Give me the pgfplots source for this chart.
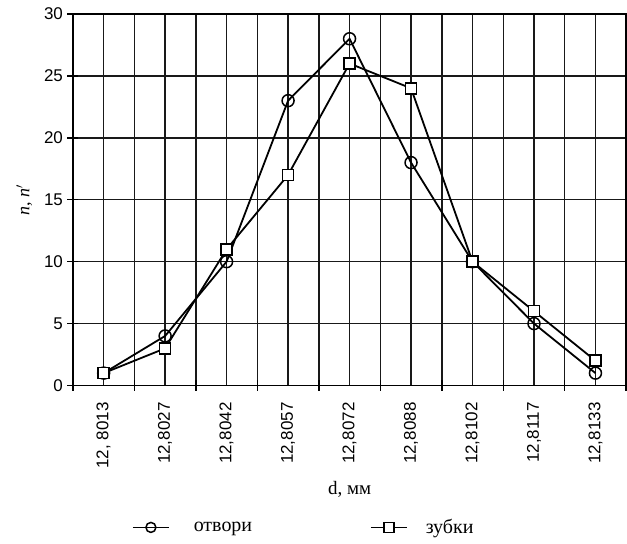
\documentclass[border=0pt]{standalone}
\usepackage{pgfplots}
\pgfplotsset{compat=1.18}
\usepackage{fontspec}
\setmainfont{Liberation Serif}
\newfontfamily\arial{Liberation Sans}
\begin{document}
\begin{tikzpicture}
\begin{axis}[
  scale only axis,
  width=554pt, height=372pt,
  xmin=-0.5, xmax=8.5, ymin=0, ymax=30,
  xtick={0,...,8},
  xticklabels={{12, 8013},{12,8027},{12,8042},{12,8057},{12,8072},{12,8088},{12,8102},{12,8117},{12,8133}},
  minor xtick={-0.5,0.5,...,8.5},
  ytick={0,5,...,30},
  xtick pos=bottom, ytick pos=left,
  tick align=center,
  major tick length=11pt, minor tick length=11pt,
  major x tick style={draw=none},
  xmajorgrids, xminorgrids, ymajorgrids,
  grid style={black!90, line width=1.5pt},
  minor grid style={black!90, line width=1.5pt},
  axis line style={black, line width=1.5pt},
  every tick/.style={black, line width=1.5pt},
  /pgf/number format/assume math mode=true,
  yticklabel style={font=\arial\fontsize{17}{19}\selectfont, xshift=-1pt},
  xticklabel style={font=\arial\fontsize{17}{19}\selectfont, rotate=90, anchor=east, xshift=-8pt},
  xlabel={d, мм},
  xlabel style={font=\fontsize{19}{21}\selectfont, at={(axis description cs:0.5,-0.28)}, anchor=center},
  ylabel={\textit{n}, \textit{n}$'$},
  ylabel style={font=\fontsize{18}{20}\selectfont, at={(axis description cs:-0.088,0.5)}, anchor=center, rotate=0},
  legend columns=2,
  legend style={draw=none, fill=none, inner sep=0pt,
    at={(axis description cs:0.1065,-0.382)}, anchor=west,
    font=\fontsize{20}{22}\selectfont,
    /tikz/every even column/.append style={column sep=118pt},
    nodes={inner sep=0pt, anchor=west}},
  legend image code/.code={\draw[mark repeat=2,mark phase=2, mark size=5pt] plot coordinates {(0pt,0pt)(18pt,0pt)(36pt,0pt)};},
  legend cell align=left,
]
\addplot[black, line width=1.8pt, mark=o, mark size=6pt, mark options={fill=white, solid, line width=1.5pt}]
  coordinates {(0,1)(1,4)(2,10)(3,23)(4,28)(5,18)(6,10)(7,5)(8,1)};
\addlegendentry{\hspace{24pt}отвори}
\addplot[black, line width=1.8pt, mark=square*, mark size=5.5pt, mark options={fill=white, solid, line width=1.5pt}]
  coordinates {(0,1)(1,3)(2,11)(3,17)(4,26)(5,24)(6,10)(7,6)(8,2)};
\addlegendentry{\hspace{18pt}зубки}
\end{axis}
\pgfresetboundingbox
\path[use as bounding box] ([shift={(-73pt,-158pt)}]current axis.south west) rectangle ([shift={(0.8pt,14pt)}]current axis.north east);
\end{tikzpicture}
\end{document}
